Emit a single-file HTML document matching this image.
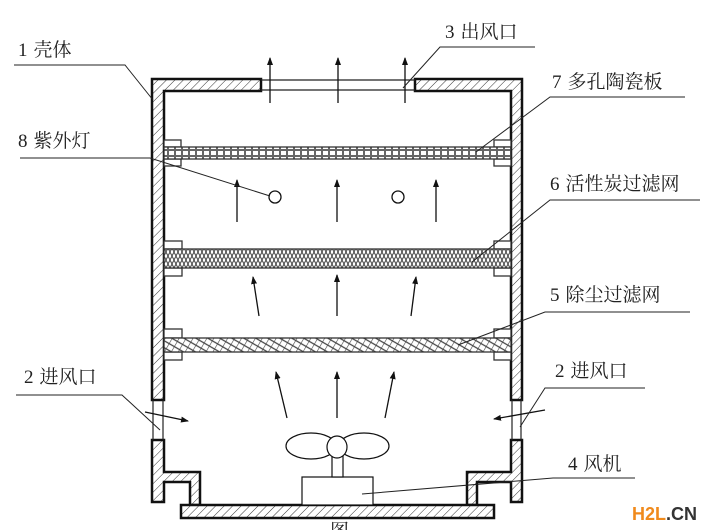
<!DOCTYPE html>
<html><head><meta charset="utf-8"><style>
html,body{margin:0;padding:0;background:#fff;}
svg{display:block;}
text{font-family:"Liberation Serif","Noto Serif CJK SC","Noto Sans CJK SC",serif;font-size:19px;fill:#222;}
</style></head><body>
<svg width="720" height="530" viewBox="0 0 720 530" xmlns="http://www.w3.org/2000/svg">
<defs>
<pattern id="h" width="6" height="6" patternUnits="userSpaceOnUse" patternTransform="rotate(45)">
<rect width="6" height="6" fill="#fff"/><line x1="0" y1="0" x2="0" y2="6" stroke="#333" stroke-width="1"/></pattern>
<pattern id="cer" width="7" height="6" patternUnits="userSpaceOnUse">
<rect width="7" height="6" fill="#666"/><rect x="1" y="1" width="5" height="4" fill="#fff"/></pattern>
<pattern id="car" width="8" height="8" patternUnits="userSpaceOnUse">
<rect width="8" height="8" fill="#fff"/><path d="M0 8 L4 0 L8 8 M0 0 L4 8 L8 0" stroke="#444" fill="none" stroke-width="1"/></pattern>
<pattern id="dust" width="6" height="6" patternUnits="userSpaceOnUse" patternTransform="rotate(30)">
<rect width="6" height="6" fill="#fff"/><path d="M0 0 L0 6 M0 3 L6 3" stroke="#444" stroke-width="1.2"/></pattern>
<marker id="a" markerWidth="8" markerHeight="10" refX="7" refY="4" orient="auto" markerUnits="userSpaceOnUse">
<path d="M0 1 L8 4 L0 7 Z" fill="#111"/></marker>
</defs>
<g stroke="#111" stroke-width="2.5" fill="url(#h)">
<path d="M152 79 H261 V91 H164 V400 H152 Z"/>
<path d="M522 79 H415 V91 H511 V400 H522 Z"/>
<path d="M152 440 H164 V472 H200 V505 H190 V482 H164 V502 H152 Z"/>
<path d="M522 440 H511 V472 H467 V505 H477 V482 H511 V502 H522 Z"/>
<rect x="181" y="505" width="313" height="13"/>
</g>
<g stroke="#222" stroke-width="1.2" fill="none">
<line x1="261" y1="80" x2="415" y2="80"/><line x1="261" y1="90" x2="415" y2="90"/>
<line x1="153" y1="400" x2="153" y2="440"/><line x1="163" y1="400" x2="163" y2="440"/>
<line x1="512" y1="400" x2="512" y2="440"/><line x1="521" y1="400" x2="521" y2="440"/>
</g>
<g stroke="#333" stroke-width="1.3" fill="#fff">
<rect x="164" y="140" width="17" height="7"/><rect x="164" y="159" width="17" height="7"/>
<rect x="494" y="140" width="17" height="7"/><rect x="494" y="159" width="17" height="7"/>
<rect x="164" y="241" width="18" height="8"/><rect x="164" y="268" width="18" height="8"/>
<rect x="494" y="241" width="17" height="8"/><rect x="494" y="268" width="17" height="8"/>
<rect x="164" y="329" width="18" height="9"/><rect x="164" y="352" width="18" height="8"/>
<rect x="494" y="329" width="17" height="9"/><rect x="494" y="352" width="17" height="8"/>
<rect x="164" y="147" width="347" height="12" fill="url(#cer)"/>
<rect x="164" y="249" width="347" height="19" fill="url(#car)"/>
<rect x="164" y="338" width="347" height="14" fill="url(#dust)"/>
</g>
<g stroke="#111" stroke-width="1.3" fill="#fff">
<circle cx="275" cy="197" r="6"/><circle cx="398" cy="197" r="6"/>
</g>
<g stroke="#111" stroke-width="1.3" marker-end="url(#a)">
<line x1="270" y1="103" x2="270" y2="58"/><line x1="338" y1="103" x2="338" y2="58"/><line x1="405" y1="103" x2="405" y2="58"/>
<line x1="237" y1="222" x2="237" y2="180"/><line x1="337" y1="222" x2="337" y2="180"/><line x1="436" y1="222" x2="436" y2="180"/>
<line x1="259" y1="316" x2="253" y2="277"/><line x1="337" y1="316" x2="337" y2="275"/><line x1="411" y1="316" x2="416" y2="277"/>
<line x1="287" y1="418" x2="276" y2="372"/><line x1="337" y1="418" x2="337" y2="372"/><line x1="385" y1="418" x2="394" y2="372"/>
<line x1="145" y1="412" x2="188" y2="421"/><line x1="545" y1="410" x2="494" y2="419"/>
</g>
<g stroke="#111" stroke-width="1.2" fill="#fff">
<rect x="302" y="477" width="71" height="28"/>
<rect x="332" y="456" width="11" height="21"/>
<ellipse cx="311" cy="446" rx="25" ry="13"/><ellipse cx="364" cy="446" rx="25" ry="13"/>
<ellipse cx="337" cy="447" rx="10" ry="11"/>
</g>
<g stroke="#222" stroke-width="1" fill="none">
<polyline points="14,65 125,65 153,100"/>
<polyline points="535,47 440,47 403,88"/>
<polyline points="685,97 550,97 476,152"/>
<polyline points="20,158 150,158 270,196"/>
<polyline points="700,200 550,200 472,262"/>
<polyline points="690,312 545,312 458,345"/>
<polyline points="16,395 122,395 160,430"/>
<polyline points="645,388 545,388 520,427"/>
<polyline points="635,478 553,478 362,494"/>
</g>
<text x="18" y="56">1<tspan dx="6">壳体</tspan></text>
<text x="445" y="38">3<tspan dx="6">出风口</tspan></text>
<text x="552" y="88">7<tspan dx="6">多孔陶瓷板</tspan></text>
<text x="18" y="147">8<tspan dx="6">紫外灯</tspan></text>
<text x="550" y="190">6<tspan dx="6">活性炭过滤网</tspan></text>
<text x="550" y="301">5<tspan dx="6">除尘过滤网</tspan></text>
<text x="24" y="383">2<tspan dx="6">进风口</tspan></text>
<text x="555" y="377">2<tspan dx="6">进风口</tspan></text>
<text x="568" y="470">4<tspan dx="6">风机</tspan></text>
<text x="330" y="537">图</text>
<text x="632" y="520" style="font-family:'Liberation Sans',sans-serif;font-weight:bold;font-size:18px;fill:#f08a1c">H2L<tspan style="fill:#333">.CN</tspan></text>
</svg>
</body></html>
